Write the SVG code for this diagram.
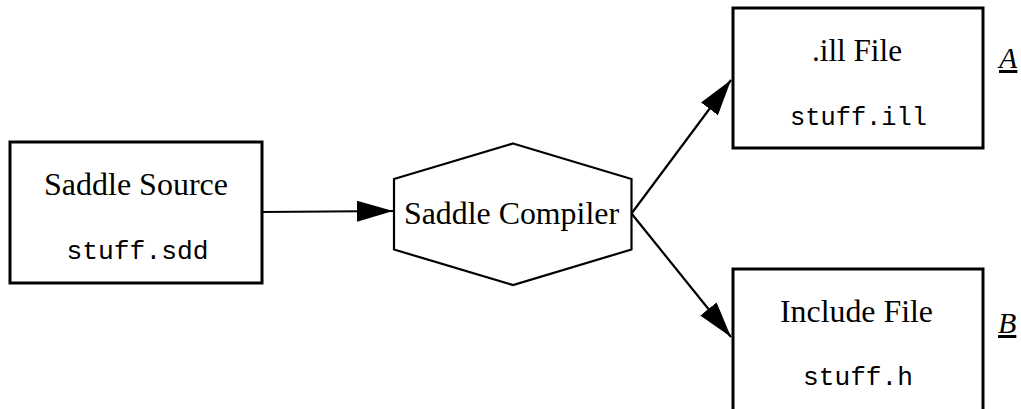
<svg xmlns="http://www.w3.org/2000/svg" width="1021" height="409" viewBox="0 0 1021 409">
<style>
.box{fill:#fff;stroke:#000;stroke-width:3}
.hex{fill:#fff;stroke:#000;stroke-width:2.2}
.conn{fill:none;stroke:#000;stroke-width:2.2}
.t{font-family:"Liberation Serif","Times New Roman",serif;font-size:32px;fill:#000}
.m{font-family:"Liberation Mono","Courier New",monospace;font-size:26px;fill:#000}
.lbl{font-family:"Liberation Serif","Times New Roman",serif;font-size:30px;font-style:italic;fill:#000;text-decoration:underline}
</style>
<defs>
<marker id="ah" markerUnits="userSpaceOnUse" markerWidth="37" markerHeight="22" refX="36" refY="10.5" orient="auto">
<path d="M0,0 L36,10.5 L0,21 Z" fill="#000"/>
</marker>
</defs>
<rect x="0" y="0" width="1021" height="409" fill="#fff"/>
<g id="connectors">
<path class="conn" d="M262,212 L393,211" marker-end="url(#ah)"/>
<path class="conn" d="M631.5,213.5 L731,80" marker-end="url(#ah)"/>
<path class="conn" d="M631.5,213.5 L731,337" marker-end="url(#ah)"/>
</g>
<g id="saddle-source">
<rect class="box" x="10" y="142" width="252" height="141"/>
<text class="t" x="136" y="195" text-anchor="middle" textLength="184" lengthAdjust="spacingAndGlyphs">Saddle Source</text>
<text class="m" x="137.5" y="259" text-anchor="middle" textLength="142" lengthAdjust="spacingAndGlyphs">stuff.sdd</text>
</g>
<g id="saddle-compiler">
<polygon class="hex" points="513,143.5 631.5,179 631.5,249.5 513,285 394,249.5 394,179"/>
<text class="t" x="511.5" y="224" text-anchor="middle" textLength="215" lengthAdjust="spacingAndGlyphs">Saddle Compiler</text>
</g>
<g id="ill-file">
<rect class="box" x="733" y="8" width="250" height="140"/>
<text class="t" x="857" y="61" text-anchor="middle" textLength="90" lengthAdjust="spacingAndGlyphs">.ill File</text>
<text class="m" x="858.5" y="125" text-anchor="middle" textLength="137" lengthAdjust="spacingAndGlyphs">stuff.ill</text>
</g>
<g id="include-file">
<rect class="box" x="733" y="269" width="250" height="150"/>
<text class="t" x="856.5" y="322" text-anchor="middle" textLength="153" lengthAdjust="spacingAndGlyphs">Include File</text>
<text class="m" x="858" y="385" text-anchor="middle" textLength="110" lengthAdjust="spacingAndGlyphs">stuff.h</text>
</g>
<g id="label-a">
<text class="lbl" x="999" y="68">A</text>
</g>
<g id="label-b">
<text class="lbl" x="998" y="333">B</text>
</g>
</svg>
